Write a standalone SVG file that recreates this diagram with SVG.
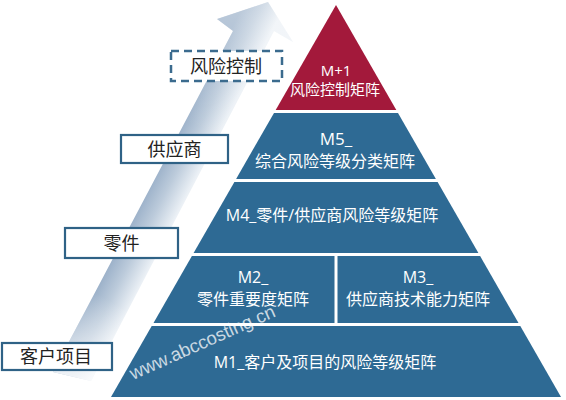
<svg xmlns="http://www.w3.org/2000/svg" width="566" height="400" viewBox="0 0 566 400">
<defs>
<linearGradient id="shaftGrad" gradientUnits="userSpaceOnUse" x1="143" y1="200" x2="176" y2="217">
<stop offset="0" stop-color="#9db2ca"/>
<stop offset="0.45" stop-color="#bccbdb"/>
<stop offset="1" stop-color="#ecf1f6"/>
</linearGradient>
<linearGradient id="fadeBottom" gradientUnits="userSpaceOnUse" x1="110" y1="300" x2="65" y2="382">
<stop offset="0" stop-color="#ffffff" stop-opacity="0"/>
<stop offset="1" stop-color="#ffffff" stop-opacity="0.85"/>
</linearGradient>
<linearGradient id="fadeTop" gradientUnits="userSpaceOnUse" x1="200" y1="130" x2="255" y2="20">
<stop offset="0" stop-color="#ffffff" stop-opacity="0"/>
<stop offset="1" stop-color="#ffffff" stop-opacity="0.3"/>
</linearGradient>
</defs>
<style>
.blue{fill:#2e6a94}
.red{fill:#a3193b}
.lt{fill:#ffffff;font-family:"Open Sans","Noto Sans CJK SC",sans-serif;text-anchor:middle}
.box{fill:#ffffff;stroke:#2f6286;stroke-width:2.2}
.dash{fill:#ffffff;stroke:#3b6b8e;stroke-width:2.5;stroke-dasharray:8 5}
.bt{fill:#222222;font-family:"Noto Sans CJK SC",sans-serif;font-size:18px;text-anchor:middle}
</style>
<rect width="566" height="400" fill="#ffffff"/>
<g id="connectors">
<g id="arrow">
<polygon points="217,19 268,2 293,42 274,31 91,381 53,372 233,31" fill="url(#shaftGrad)"/>
<polygon points="217,19 268,2 293,42 274,31 91,381 53,372 233,31" fill="url(#fadeTop)"/>
<polygon points="217,19 268,2 293,42 274,31 91,381 53,372 233,31" fill="url(#fadeBottom)"/>
</g>
</g>
<g id="layer-m1">
<polygon class="blue" points="151.7,326 520.3,326 561,397 111,397"/>
<text class="lt" x="325" y="368" font-size="16">M1_客户及项目的风险等级矩阵</text>
</g>
<g id="layer-m2">
<polygon class="blue" points="191.9,256 334.5,256 334.5,323 153.5,323"/>
<text class="lt" x="253" y="283" font-size="16">M2_</text>
<text class="lt" x="253" y="305" font-size="16">零件重要度矩阵</text>
</g>
<g id="layer-m3">
<polygon class="blue" points="337.5,256 480.1,256 518.5,323 337.5,323"/>
<text class="lt" x="418" y="283" font-size="16">M3_</text>
<text class="lt" x="418" y="305" font-size="16">供应商技术能力矩阵</text>
</g>
<g id="layer-m4">
<polygon class="blue" points="234.4,182 437.6,182 478.4,253 193.6,253"/>
<text class="lt" x="332" y="221" font-size="16">M4_零件/供应商风险等级矩阵</text>
</g>
<g id="layer-m5">
<polygon class="blue" points="274,113 398,113 435.9,179 236.1,179"/>
<text class="lt" x="336" y="145" font-size="17">M5_</text>
<text class="lt" x="335" y="167" font-size="16">综合风险等级分类矩阵</text>
</g>
<g id="layer-m6">
<polygon class="red" points="336,5 396.3,110 275.7,110"/>
<text class="lt" x="336" y="76" font-size="15">M+1</text>
<text class="lt" x="335" y="95" font-size="15">风险控制矩阵</text>
</g>
<g id="box-risk">
<rect class="dash" x="171" y="51" width="111" height="30"/>
<text class="bt" x="226" y="73">风险控制</text>
</g>
<g id="box-supplier">
<rect class="box" x="121" y="135" width="107" height="28"/>
<text class="bt" x="174.5" y="156">供应商</text>
</g>
<g id="box-part">
<rect class="box" x="65" y="228" width="113" height="30"/>
<text class="bt" x="121.5" y="250">零件</text>
</g>
<g id="box-customer">
<rect class="box" x="2" y="343" width="110" height="27"/>
<text class="bt" x="56" y="363">客户项目</text>
</g>
<text x="133" y="380" transform="rotate(-24 133 380)" font-family="Liberation Sans, sans-serif" font-size="18.5" fill="#ffffff" fill-opacity="0.75">www.abccosting.cn</text>
</svg>
